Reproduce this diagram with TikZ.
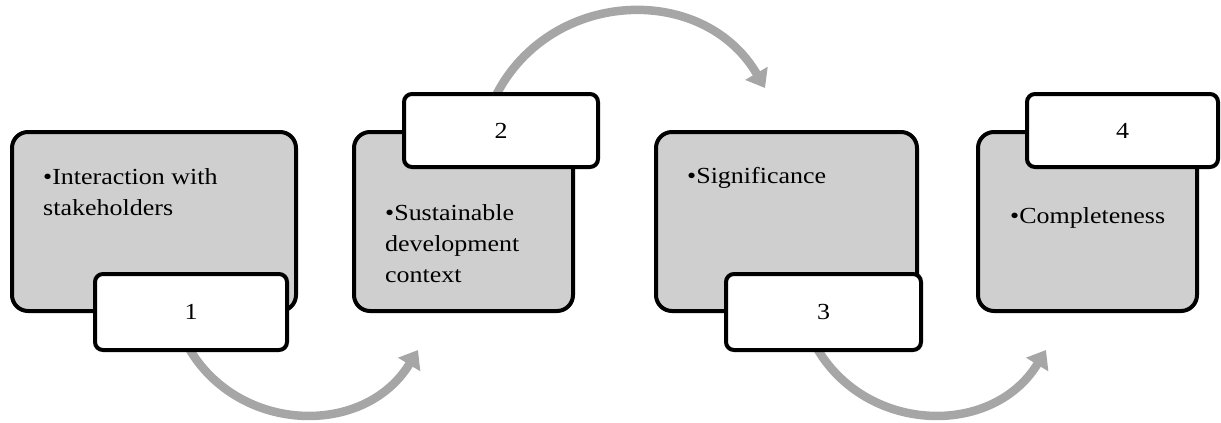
\documentclass[tikz,border=0pt]{standalone}
\usepackage{fontspec}
\setmainfont{Liberation Serif}[FakeStretch=1.13]
\usetikzlibrary{arrows.meta,backgrounds}
\definecolor{panelgray}{RGB}{207,207,207}
\definecolor{flowgray}{RGB}{166,166,166}
\tikzset{
  panel/.style={draw=black, line width=4pt, fill=panelgray, rounded corners=16pt,
    minimum height=179pt, inner sep=0pt},
  tag/.style={draw=black, line width=4pt, fill=white, rounded corners=8pt,
    inner sep=0pt, font=\fontsize{23}{27}\selectfont},
  bullettext/.style={anchor=base west, align=left, inner sep=0pt,
    font=\fontsize{23}{31}\selectfont},
  flow/.style={draw=flowgray, line width=8.5pt, -{Triangle[length=17pt,width=25pt]}}
}
\begin{document}
\begin{tikzpicture}[x=1pt,y=1pt]
\useasboundingbox (0,0) rectangle (1221,-423);

% gray panels
\node[panel, minimum width=284pt] (p1) at (154,-221.5) {};
\node[panel, minimum width=219pt] (p2) at (463.5,-221.5) {};
\node[panel, minimum width=261pt] (p3) at (786.5,-221.5) {};
\node[panel, minimum width=219pt] (p4) at (1087.5,-221.5) {};

% panel texts (anchored at the baseline of their last line)
\node[bullettext] (s1) at (43,-215) {•Interaction with\\stakeholders};
\node[bullettext] (s2) at (385,-282) {•Sustainable\\development\\context};
\node[bullettext] (s3) at (687,-183) {•Significance};
\node[bullettext] (s4) at (1010,-223) {•Completeness};

% number tags
\node[tag, minimum width=192pt, minimum height=76pt] (t1) at (191,-312) {1};
\node[tag, minimum width=194pt, minimum height=73pt] (t2) at (501,-130.5) {2};
\node[tag, minimum width=195pt, minimum height=76pt] (t3) at (823.5,-312) {3};
\node[tag, minimum width=191pt, minimum height=73pt] (t4) at (1122.5,-130.5) {4};

% curved flow arrows, behind the boxes
\coordinate (a1s) at (183,-336.9);
\coordinate (a1e) at (418,-350);
\coordinate (a2s) at (493.4,-100.6);
\coordinate (a2e) at (765,-88);
\coordinate (a3s) at (811,-336.9);
\coordinate (a3e) at (1046,-350);
\begin{scope}[on background layer]
  \draw[flow] (a1s) to[out=295, in=238.6, looseness=1.156] (a1e);
  \draw[flow] (a2s) to[out=65, in=120.3, looseness=1.165] (a2e);
  \draw[flow] (a3s) to[out=295, in=238.6, looseness=1.156] (a3e);
\end{scope}
\end{tikzpicture}
\end{document}
